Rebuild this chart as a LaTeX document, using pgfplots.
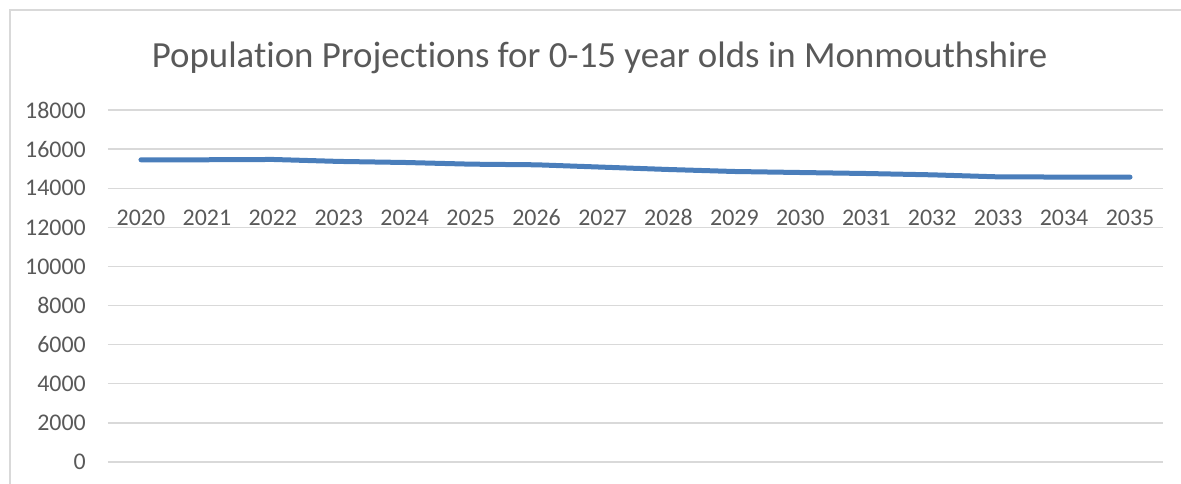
\documentclass[border=0pt]{standalone}
\usepackage{fontspec}
\setmainfont{Carlito}[Ligatures={NoCommon}]
\usepackage{pgfplots}
\pgfplotsset{compat=1.18}
\definecolor{lineblue}{HTML}{4A7EBB}
\definecolor{gridgrey}{HTML}{D9D9D9}
\definecolor{textgrey}{HTML}{595959}
\begin{document}
\begin{tikzpicture}[x=1bp,y=1bp]
\useasboundingbox (-108,-22) rectangle (1073,462);
\draw[gridgrey, line width=1.5bp] (-98,-22) -- (-98,452) -- (1073,452);
\begin{axis}[
 at={(0,0)}, anchor=south west,
 scale only axis, width=1055bp, height=352bp,
 xmin=2019.5, xmax=2035.5, ymin=0, ymax=18000,
 xtick={2020,2021,...,2035}, ytick={0,2000,...,18000},
 scaled ticks=false,
 axis line style={draw=none}, major tick length=0pt,
 ymajorgrids, grid style={gridgrey, line width=1.3bp},
 tick label style={font=\fontsize{24}{28}\selectfont, text=textgrey},
 /pgf/number format/assume math mode=true,
 /pgf/number format/set thousands separator={},
 xticklabel style={anchor=base, inner sep=0pt, yshift=236bp},
 yticklabel style={anchor=east, inner sep=0pt, xshift=-22bp},
 title={Population Projections for 0-15 year olds in Monmouthshire},
 title style={font=\fontsize{37}{44}\selectfont, text=textgrey, at={(axis description cs:0.466,1)}, anchor=center, yshift=46bp},
 clip=false,
]
\addplot[lineblue, line width=5bp, line cap=round, line join=round] coordinates {
(2020,15453) (2021,15455) (2022,15470) (2023,15370) (2024,15316) (2025,15230)
(2026,15197) (2027,15077) (2028,14957) (2029,14855) (2030,14803) (2031,14752)
(2032,14684) (2033,14581) (2034,14570) (2035,14568)
};
\end{axis}
\end{tikzpicture}
\end{document}
